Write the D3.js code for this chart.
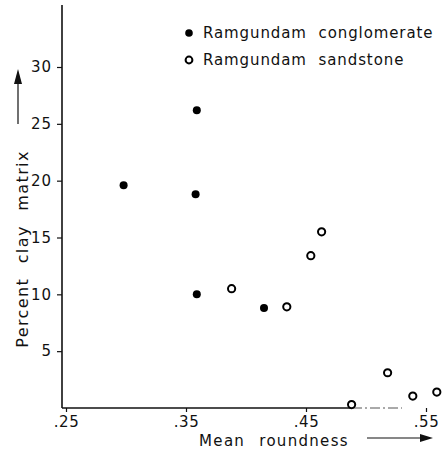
<!DOCTYPE html>
<html><head><meta charset="utf-8">
<script src="https://cdn.jsdelivr.net/npm/d3@7"></script>
<style>body{margin:0;background:#fff}svg{display:block}text{font-family:"DejaVu Sans",sans-serif;fill:#111}</style>
</head><body>
<script>
const conglomerateX = [0.298, 0.359, 0.358, 0.359, 0.415];
const conglomerateY = [19.6, 26.2, 18.8, 10.0, 8.8];
const sandstoneX = [0.388, 0.434, 0.454, 0.463, 0.488, 0.518, 0.539, 0.559];
const sandstoneY = [10.5, 8.9, 13.4, 15.5, 0.3, 3.1, 1.05, 1.4];
const xTicks = [0.25, 0.35, 0.45, 0.55];
const xTickLabels = [".25", ".35", ".45", ".55"];
const yTicks = [5, 10, 15, 20, 25, 30];
const seriesNames = ["Ramgundam conglomerate", "Ramgundam sandstone"];
const xTitle = "Mean roundness";
const yTitle = "Percent clay matrix";

const W = 446, H = 455;
const svg = d3.select("body").append("svg").attr("width", W).attr("height", H);
const x = d3.scaleLinear().domain([0.25, 0.55]).range([66, 426]);
const y = d3.scaleLinear().domain([0, 30]).range([408, 67]);
const x0 = 62;

// axes lines
svg.append("line").attr("x1", x0).attr("x2", x0).attr("y1", 5).attr("y2", y(0))
  .attr("stroke", "#111").attr("stroke-width", 1.6);
svg.append("line").attr("x1", x0).attr("x2", 352).attr("y1", y(0)).attr("y2", y(0))
  .attr("stroke", "#111").attr("stroke-width", 1.6);
svg.append("line").attr("x1", 352).attr("x2", 402).attr("y1", y(0)).attr("y2", y(0))
  .attr("stroke", "#555").attr("stroke-width", 1).attr("stroke-dasharray", "10,3,2,3");

// y axis
const yAxis = d3.axisLeft(y).tickValues(yTicks).tickSize(5).tickPadding(5);
const gy = svg.append("g").attr("transform", `translate(${x0},0)`).call(yAxis);
gy.select(".domain").remove();
gy.selectAll("line").attr("stroke", "#111").attr("stroke-width", 1.2);
gy.selectAll("text").style("font-size", "15px").style("letter-spacing", "1px").attr("fill", "#111");

// x axis
const xAxis = d3.axisBottom(x).tickValues(xTicks).tickFormat((d, i) => xTickLabels[i]).tickSize(4).tickPadding(4);
const gx = svg.append("g").attr("transform", `translate(0,${y(0)})`).call(xAxis);
gx.select(".domain").remove();
gx.selectAll("line").attr("stroke", "#111").attr("stroke-width", 1.2);
gx.selectAll("text").style("font-size", "15px").style("letter-spacing", "0.5px").attr("fill", "#111");

// points
svg.append("g").selectAll("circle").data(conglomerateX.map((d, i) => [d, conglomerateY[i]]))
  .join("circle").attr("cx", d => x(d[0])).attr("cy", d => y(d[1])).attr("r", 4).attr("fill", "#000");
svg.append("g").selectAll("circle").data(sandstoneX.map((d, i) => [d, sandstoneY[i]]))
  .join("circle").attr("cx", d => x(d[0])).attr("cy", d => y(d[1])).attr("r", 3.6)
  .attr("fill", "#fff").attr("stroke", "#000").attr("stroke-width", 2);

// legend
const leg = svg.append("g");
leg.append("circle").attr("cx", 189).attr("cy", 33).attr("r", 3.8).attr("fill", "#000");
leg.append("circle").attr("cx", 189).attr("cy", 60).attr("r", 3.4).attr("fill", "#fff").attr("stroke", "#000").attr("stroke-width", 2);
leg.append("text").attr("x", 203).attr("y", 38).style("font-size", "15px").style("letter-spacing", "0.9px").style("word-spacing", "6px").text(seriesNames[0]);
leg.append("text").attr("x", 203).attr("y", 65).style("font-size", "15px").style("letter-spacing", "0.9px").style("word-spacing", "6px").text(seriesNames[1]);

// x title + arrow
svg.append("text").attr("x", 274).attr("y", 446).attr("text-anchor", "middle")
  .style("font-size", "15px").style("word-spacing", "8px").style("letter-spacing", "1.3px").text(xTitle);
svg.append("line").attr("x1", 367).attr("x2", 422).attr("y1", 438).attr("y2", 438).attr("stroke", "#111").attr("stroke-width", 1.2);
svg.append("path").attr("d", "M433,438 L420,434 L420,442 Z").attr("fill", "#111");

// y title + arrow
svg.append("text").attr("transform", "translate(28,249) rotate(-90)").attr("text-anchor", "middle")
  .style("font-size", "16px").style("word-spacing", "8px").style("letter-spacing", "1.4px").text(yTitle);
svg.append("line").attr("x1", 18).attr("x2", 18).attr("y1", 124).attr("y2", 80).attr("stroke", "#111").attr("stroke-width", 1.2);
svg.append("path").attr("d", "M18,69 L14,84 L22,84 Z").attr("fill", "#111");
</script>
</body></html>
